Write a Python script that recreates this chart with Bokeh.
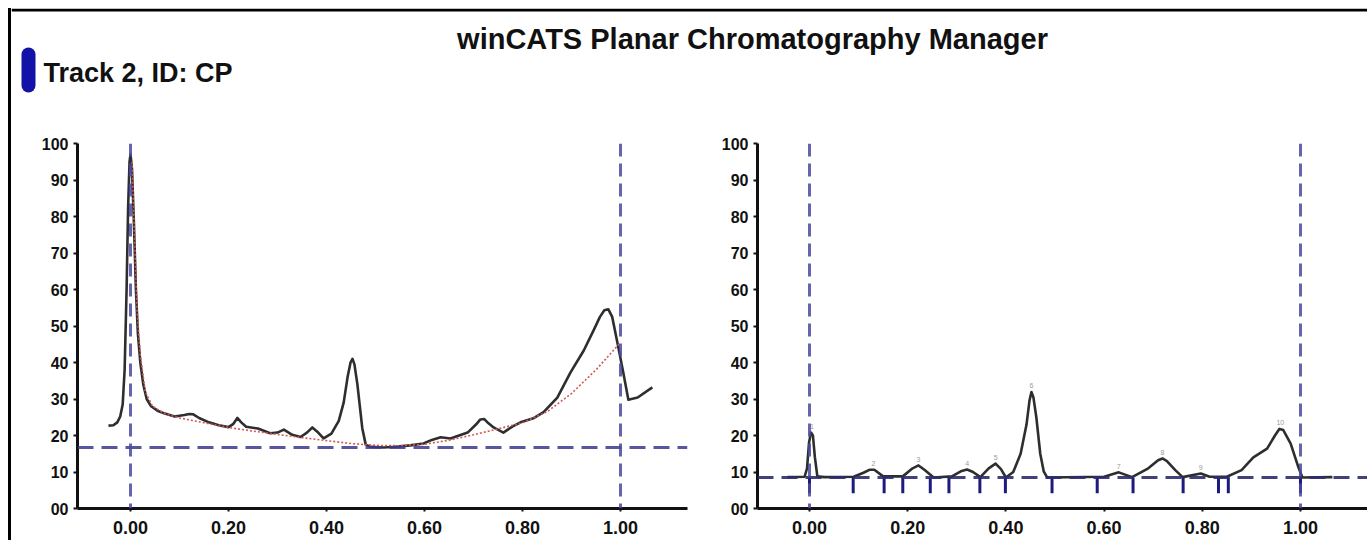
from bokeh.plotting import figure
from bokeh.layouts import column, row
from bokeh.models import Range1d, FixedTicker, Span
from bokeh.core.properties import value
from bokeh.embed import file_html
from bokeh.resources import INLINE

# ---------------- data ----------------
TITLE = "winCATS Planar Chromatography Manager"
TRACK = "Track 2, ID: CP"

x_ticks = [0.0, 0.2, 0.4, 0.6, 0.8, 1.0]
x_tick_labels = ["0.00", "0.20", "0.40", "0.60", "0.80", "1.00"]
y_ticks = [0, 10, 20, 30, 40, 50, 60, 70, 80, 90, 100]
y_tick_labels = ["00", "10", "20", "30", "40", "50", "60", "70", "80", "90", "100"]

start_rf = 0.0
front_rf = 1.0

# raw densitogram (left)
raw_rf = [-0.045, -0.035, -0.027, -0.021, -0.016, -0.012, -0.008, -0.005, -0.002, 0.0,
          0.003, 0.007, 0.011, 0.015, 0.02, 0.026, 0.033, 0.042, 0.055, 0.07,
          0.09, 0.11, 0.12, 0.128, 0.14, 0.16, 0.18, 0.2, 0.21, 0.218,
          0.226, 0.236, 0.26, 0.285, 0.3, 0.313, 0.33, 0.347, 0.36, 0.371,
          0.383, 0.394, 0.41, 0.425, 0.435, 0.443, 0.449, 0.453, 0.457, 0.463,
          0.473, 0.48, 0.49, 0.517, 0.54, 0.571, 0.598, 0.615, 0.633, 0.653,
          0.688, 0.705, 0.714, 0.722, 0.73, 0.741, 0.761, 0.78, 0.796, 0.822,
          0.843, 0.871, 0.898, 0.925, 0.945, 0.958, 0.967, 0.975, 0.983, 0.994,
          1.006, 1.016, 1.035, 1.065]
raw_au = [22.7, 22.8, 23.6, 25.2, 28.5, 38.0, 60.0, 82.0, 95.0, 97.0,
          93.0, 78.0, 60.0, 48.0, 40.0, 34.0, 30.0, 28.0, 26.8, 26.0,
          25.2, 25.6, 25.9, 25.8, 24.8, 23.6, 22.8, 22.3, 23.2, 24.8,
          23.6, 22.4, 21.9, 20.6, 20.8, 21.6, 20.2, 19.6, 20.8, 22.2,
          20.8, 19.2, 20.5, 24.0, 29.0, 36.0, 40.0, 41.0, 39.5, 34.0,
          22.0, 17.5, 16.9, 16.7, 16.9, 17.3, 17.8, 18.8, 19.5, 19.2,
          20.8, 23.0, 24.4, 24.5, 23.4, 22.2, 20.8, 22.5, 23.6, 24.7,
          26.4, 30.4, 37.3, 43.3, 48.8, 52.5, 54.3, 54.6, 52.5, 45.2,
          37.0, 29.8, 30.4, 33.2]
raw_level = 16.7

# fitted baseline (left, red dotted)
base_rf = [0.003, 0.008, 0.013, 0.02, 0.03, 0.045, 0.07, 0.1, 0.15, 0.2,
           0.25, 0.3, 0.35, 0.4, 0.45, 0.5, 0.55, 0.6, 0.65, 0.7,
           0.75, 0.8, 0.85, 0.9, 0.95, 1.0]
base_au = [95.0, 75.0, 55.0, 42.0, 32.0, 28.0, 26.0, 24.8, 23.5, 22.2,
           21.2, 20.3, 19.4, 18.6, 17.8, 17.3, 17.2, 17.6, 18.7, 20.2,
           21.8, 23.5, 26.5, 31.5, 38.0, 45.5]

# baseline-corrected densitogram (right)
corr_rf = [-0.045, -0.01, -0.005, -0.001, 0.003, 0.007, 0.011, 0.016, 0.03, 0.09,
           0.11, 0.122, 0.132, 0.15, 0.19, 0.21, 0.222, 0.234, 0.253, 0.29,
           0.31, 0.321, 0.333, 0.348, 0.365, 0.379, 0.39, 0.4, 0.415, 0.43,
           0.442, 0.448, 0.452, 0.456, 0.462, 0.47, 0.477, 0.484, 0.6, 0.63,
           0.657, 0.69, 0.71, 0.719, 0.728, 0.745, 0.76, 0.797, 0.815, 0.85,
           0.88, 0.904, 0.932, 0.948, 0.957, 0.965, 0.98, 0.996, 1.004, 1.065]
corr_au = [8.6, 8.7, 11.0, 18.0, 20.8, 20.0, 14.0, 8.8, 8.6, 8.7,
           9.8, 10.6, 10.6, 8.8, 8.8, 11.0, 11.8, 10.6, 8.5, 8.8,
           10.3, 10.7, 10.0, 8.6, 11.0, 12.3, 10.8, 8.5, 10.0, 15.0,
           23.0, 29.5, 31.9, 30.5, 25.0, 15.0, 10.2, 8.5, 8.7, 9.9,
           8.6, 11.0, 13.2, 13.7, 13.0, 10.5, 8.6, 9.6, 8.7, 8.7,
           10.5, 14.0, 16.4, 20.0, 21.8, 21.5, 17.8, 11.2, 8.5, 8.6]
corr_level = 8.5

peak_rf = [0.005, 0.13, 0.222, 0.321, 0.379, 0.452, 0.63, 0.719, 0.797, 0.959]
peak_au = [20.8, 10.7, 11.8, 10.7, 12.3, 31.9, 9.9, 13.7, 9.6, 21.9]
peak_ids = ["1", "2", "3", "4", "5", "6", "7", "8", "9", "10"]

bound_rf = [0.0, 0.089, 0.152, 0.19, 0.246, 0.284, 0.347, 0.399, 0.494, 0.586,
            0.659, 0.761, 0.833, 0.853, 1.0]
bound_depth = 4.2

# ---------------- styling helpers ----------------
FONT = "Liberation Sans"
AXIS_COLOR = "#111111"
CURVE_COLOR = "#2e2e2e"
DASH_V = "#4a4aa0"
DASH_H = "#3a3a8e"


def style_plot(p):
    p.xgrid.visible = False
    p.ygrid.visible = False
    p.outline_line_color = None
    p.background_fill_color = "white"
    p.border_fill_color = "white"
    for ax in (p.xaxis[0], p.yaxis[0]):
        ax.axis_line_color = AXIS_COLOR
        ax.axis_line_width = 3
        ax.major_tick_line_color = AXIS_COLOR
        ax.major_tick_line_width = 2
        ax.major_tick_in = 0
        ax.minor_tick_line_color = None
        ax.major_label_text_font = FONT
        ax.major_label_text_font_style = "bold"
        ax.major_label_text_color = "#111111"
    xa = p.xaxis[0]
    xa.ticker = FixedTicker(ticks=x_ticks)
    xa.major_label_overrides = {t: l for t, l in zip(x_ticks, x_tick_labels)}
    xa.major_label_text_font_size = "18px"
    xa.major_tick_out = 3
    xa.major_label_standoff = 9
    ya = p.yaxis[0]
    ya.ticker = FixedTicker(ticks=y_ticks)
    ya.major_label_overrides = {t: l for t, l in zip(y_ticks, y_tick_labels)}
    ya.major_label_text_font_size = "16px"
    ya.major_tick_out = 4
    ya.major_label_standoff = 5


FRAME_H = 365
TOP = 35
BOTTOM = 32

# ---------------- left plot ----------------
p1 = figure(width=689, height=TOP + FRAME_H + BOTTOM,
            x_range=Range1d(-0.1082, 1.1367), y_range=Range1d(0, 100),
            toolbar_location=None, output_backend="svg",
            min_border_left=66, min_border_right=13,
            min_border_top=TOP, min_border_bottom=BOTTOM)
style_plot(p1)
p1.line(raw_rf, raw_au, line_color=CURVE_COLOR, line_width=2.6, line_join="round")
p1.line(base_rf, base_au, line_color="#d05858", line_width=1.6, line_dash="2 2")
p1.add_layout(Span(location=raw_level, dimension="width", line_color=DASH_H,
                   line_width=3, line_dash="16 8", line_alpha=0.85))
for loc in (start_rf, front_rf):
    p1.add_layout(Span(location=loc, dimension="height", line_color=DASH_V,
                       line_width=3, line_dash="13 7", line_alpha=0.85))

# ---------------- right plot ----------------
p2 = figure(width=667, height=TOP + FRAME_H + BOTTOM,
            x_range=Range1d(-0.1059, 1.1365), y_range=Range1d(0, 100),
            toolbar_location=None, output_backend="svg",
            min_border_left=57, min_border_right=0,
            min_border_top=TOP, min_border_bottom=BOTTOM)
style_plot(p2)
p2.add_layout(Span(location=corr_level, dimension="width", line_color="#2c2c70",
                   line_width=3, line_dash="16 8", line_alpha=0.9))
for loc in (start_rf, front_rf):
    p2.add_layout(Span(location=loc, dimension="height", line_color=DASH_V,
                       line_width=3, line_dash="13 7", line_alpha=0.85))
p2.line(corr_rf, corr_au, line_color=CURVE_COLOR, line_width=2.6, line_join="round")
p2.segment(x0=bound_rf, y0=[corr_level] * len(bound_rf),
           x1=bound_rf, y1=[bound_depth] * len(bound_rf),
           line_color="#1c1c80", line_width=3)
p2.text(x=peak_rf, y=[a + 1.0 for a in peak_au], text=peak_ids,
        text_font=value(FONT), text_font_size="7px", text_color="#9a9a9a",
        text_align="center", text_baseline="bottom")

# ---------------- header ----------------
HW, HH = 1356, 100
header = figure(width=HW, height=HH, x_range=Range1d(0, HW), y_range=Range1d(HH, 0),
                toolbar_location=None, output_backend="svg", min_border=0)
header.axis.visible = False
header.xgrid.visible = False
header.ygrid.visible = False
header.outline_line_color = None
header.segment(x0=[0], y0=[1.5], x1=[HW], y1=[1.5], line_color="black", line_width=3)
header.text(x=[741], y=[30], text=[TITLE], text_font=value(FONT),
            text_font_style="bold", text_font_size="29px", text_color="#111111",
            text_align="center", text_baseline="middle")
header.segment(x0=[17], y0=[46], x1=[17], y1=[77], line_color="#1212a8",
               line_width=14, line_cap="round")
header.text(x=[32], y=[64], text=[TRACK], text_font=value(FONT),
            text_font_style="bold", text_font_size="27px", text_color="#111111",
            text_align="left", text_baseline="middle")

layout = column(header, row(p1, p2, spacing=0), spacing=0,
                styles={"border-left": "3px solid black",
                        "margin-left": "8px", "margin-top": "8px"})

open("out.html", "w").write(file_html(layout, INLINE))
